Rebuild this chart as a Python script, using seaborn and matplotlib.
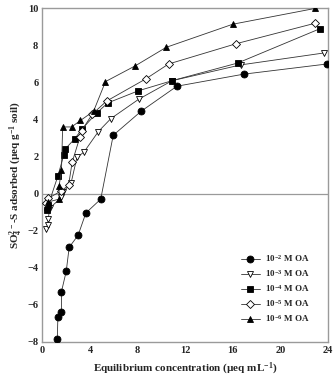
import matplotlib
matplotlib.use("Agg")
import matplotlib.pyplot as plt
import seaborn as sns
import pandas as pd

# Data
c2_x = [1.25, 1.3, 1.6, 1.6, 2.0, 2.25, 3.0, 3.65, 4.9, 5.95, 8.3, 11.3, 16.9, 23.9]
c2_y = [-7.85, -6.65, -6.4, -5.3, -4.2, -2.9, -2.25, -1.05, -0.3, 3.15, 4.45, 5.8, 6.45, 7.0]

c3_x = [0.3, 0.45, 0.5, 0.6, 1.6, 1.75, 2.4, 2.9, 3.5, 4.7, 5.75, 8.1, 10.9, 16.65, 23.7]
c3_y = [-1.9, -1.7, -1.35, -0.8, -0.2, 0.1, 0.55, 1.95, 2.25, 3.35, 4.05, 5.1, 6.1, 6.95, 7.6]

c4_x = [0.4, 0.5, 1.3, 1.8, 1.9, 2.7, 3.35, 4.55, 5.5, 8.05, 10.9, 16.4, 23.3]
c4_y = [-0.9, -0.6, 0.95, 2.1, 2.4, 2.95, 3.5, 4.35, 4.9, 5.55, 6.1, 7.05, 8.9]

c5_x = [0.3, 0.5, 1.6, 2.2, 2.5, 3.15, 3.3, 4.2, 5.4, 8.7, 10.6, 16.3, 22.9]
c5_y = [-0.5, -0.25, 0.15, 0.45, 1.7, 3.05, 3.4, 4.3, 5.0, 6.2, 7.0, 8.1, 9.2]

c6_x = [0.4, 0.5, 1.4, 1.4, 1.6, 1.7, 2.45, 3.2, 4.3, 5.3, 7.8, 10.4, 16.0, 22.9]
c6_y = [-0.7, -0.45, -0.3, 0.4, 1.25, 3.6, 3.6, 3.95, 4.45, 6.05, 6.9, 7.9, 9.15, 10.0]

labels = ["10$^{-2}$ M OA", "10$^{-3}$ M OA", "10$^{-4}$ M OA", "10$^{-5}$ M OA", "10$^{-6}$ M OA"]
xticks = [0, 4, 8, 12, 16, 20, 24]
yticks = [-8, -6, -4, -2, 0, 2, 4, 6, 8, 10]

sns.set_style("white")
plt.rcParams["font.family"] = ["Liberation Serif", "DejaVu Serif"]
plt.rcParams["font.weight"] = "bold"
plt.rcParams["mathtext.fontset"] = "custom"
plt.rcParams["mathtext.rm"] = "Liberation Serif:bold"
plt.rcParams["mathtext.it"] = "Liberation Serif:bold"
plt.rcParams["mathtext.bf"] = "Liberation Serif:bold"
plt.rcParams["mathtext.default"] = "rm"

fig = plt.figure(figsize=(3.34, 3.85), dpi=100)
ax = fig.add_axes([0.127, 0.1125, 0.855, 0.8655])

series = [(c2_x, c2_y, "o", "black", 5.0),
          (c3_x, c3_y, "v", "white", 5.0),
          (c4_x, c4_y, "s", "black", 4.6),
          (c5_x, c5_y, "D", "white", 4.4),
          (c6_x, c6_y, "^", "black", 5.0)]

ax.axhline(0, color="#9a9a9a", lw=0.9, zorder=1)

for (xs, ys, m, fc, ms), lab in zip(series, labels):
    df = pd.DataFrame({"x": xs, "y": ys})
    sns.lineplot(data=df, x="x", y="y", estimator=None, sort=False, ax=ax,
                 color="#333333", lw=0.6, marker=m, markersize=ms,
                 markerfacecolor=fc, markeredgecolor="black", markeredgewidth=0.6,
                 label=lab, zorder=3)

ax.set_xlim(0, 24)
ax.set_ylim(-8, 10)
ax.set_xticks(xticks)
ax.set_yticks(yticks)
ax.tick_params(direction="in", length=3, width=0.6, color="#888888",
               labelsize=7.5, pad=3)
for t in ax.get_xticklabels() + ax.get_yticklabels():
    t.set_fontweight("bold")
for s in ax.spines.values():
    s.set_color("#9a9a9a")
    s.set_linewidth(1.0)

ax.set_xlabel("Equilibrium concentration (\u00b5eq mL$^{-1}$)", fontsize=8,
              fontweight="bold", labelpad=4)
ax.set_ylabel("SO$_4^{2-}$-S adsorbed (\u00b5eq g$^{-1}$ soil)", fontsize=8,
              fontweight="bold", labelpad=2)

leg = ax.legend(loc="lower right", bbox_to_anchor=(0.96, 0.03), frameon=False,
                fontsize=6.5, handlelength=2.2, handletextpad=0.5,
                labelspacing=0.45, borderpad=0.3)
for t in leg.get_texts():
    t.set_fontweight("bold")

fig.savefig("out.png", dpi=100)
